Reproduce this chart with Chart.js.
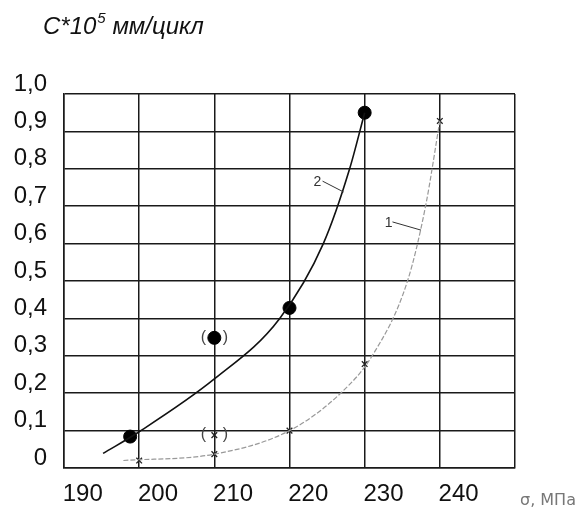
<!DOCTYPE html>
<html>
<head>
<meta charset="utf-8">
<script src="https://cdn.jsdelivr.net/npm/chart.js@4"></script>
<style>
  body { margin: 0; background: #fff; }
  canvas { display: block; }
</style>
</head>
<body>
<canvas id="chart" width="580" height="508"></canvas>
<script>
// Curve 2 (solid, dots)
const curve2LineX = [192.7, 197.5, 207.5, 216.2, 222.0, 225.5, 227.5];
const curve2LineY = [0.039, 0.097, 0.238, 0.40, 0.60, 0.80, 0.95];
const curve2PointsX = [196.3, 217.5, 227.5];
const curve2PointsY = [0.084, 0.428, 0.95];
const curve2OutlierX = [207.5];
const curve2OutlierY = [0.348];

// Curve 1 (thin grey, crosses)
const curve1LineX = [195.4, 207.5, 217.5, 224.3, 228.5, 233.2, 235.6, 237.5];
const curve1LineY = [0.02, 0.037, 0.10, 0.20, 0.30, 0.50, 0.70, 0.928];
const curve1PointsX = [197.5, 207.5, 217.5, 227.5, 237.5];
const curve1PointsY = [0.02, 0.037, 0.10, 0.278, 0.928];
const curve1OutlierX = [207.5];
const curve1OutlierY = [0.088];

// Axes
const xGridValues = [187.5, 197.5, 207.5, 217.5, 227.5, 237.5, 247.5];
const xTickLabels = [190, 200, 210, 220, 230, 240];
const xMin = 187.5, xMax = 247.5;
const yMin = 0, yMax = 1.0, yStep = 0.1;

// Curve labels: [text, textX, textY, leaderFromX, leaderFromY, leaderToX, leaderToY]
const curveLabels = [
    ['2', 221.2, 0.765, 221.9, 0.767, 224.7, 0.738],
    ['1', 230.7, 0.655, 231.2, 0.658, 235.0, 0.636]
];

const toPoints = (xs, ys) => xs.map((x, i) => ({ x: x, y: ys[i] }));
const ticksFrom = vals => axis => { axis.ticks = vals.map(v => ({ value: v })); };

const extrasPlugin = {
    id: 'extras',
    afterDatasetsDraw(chart) {
        const ctx = chart.ctx;
        const xs = chart.scales.x, ys = chart.scales.y;
        ctx.save();

        // parentheses round the doubtful points
        ctx.fillStyle = '#444';
        ctx.font = '16px "Liberation Sans", Arial, sans-serif';
        ctx.textAlign = 'center';
        ctx.textBaseline = 'middle';
        [2, 5].forEach(i => {
            const p = chart.getDatasetMeta(i).data[0];
            ctx.fillText('(', p.x - 11, p.y);
            ctx.fillText(')', p.x + 11, p.y);
        });

        // curve numbers with leaders
        ctx.strokeStyle = '#333';
        ctx.lineWidth = 1;
        ctx.fillStyle = '#333';
        ctx.font = '14px "Liberation Sans", Arial, sans-serif';
        curveLabels.forEach(l => {
            ctx.fillText(l[0], xs.getPixelForValue(l[1]), ys.getPixelForValue(l[2]));
            ctx.beginPath();
            ctx.moveTo(xs.getPixelForValue(l[3]), ys.getPixelForValue(l[4]));
            ctx.lineTo(xs.getPixelForValue(l[5]), ys.getPixelForValue(l[6]));
            ctx.stroke();
        });
        ctx.restore();
    },
    afterDraw(chart) {
        const ctx = chart.ctx;
        ctx.save();
        ctx.fillStyle = '#111';
        ctx.textBaseline = 'alphabetic';
        ctx.textAlign = 'left';
        // y title with superscript
        let x = 43;
        const base = 34;
        ctx.font = 'italic 24px "Liberation Sans", Arial, sans-serif';
        ctx.fillText('C*10', x, base);
        x += ctx.measureText('C*10').width + 1;
        ctx.font = 'italic 15px "Liberation Sans", Arial, sans-serif';
        ctx.fillText('5', x, base - 11);
        x += ctx.measureText('5').width;
        ctx.font = 'italic 24px "Liberation Sans", Arial, sans-serif';
        ctx.fillText(' мм/цикл', x, base);

        // x unit
        ctx.fillStyle = '#777';
        ctx.font = '16px "DejaVu Sans", sans-serif';
        ctx.fillText('σ, МПа', 520, 505);
        ctx.restore();
    }
};

const numFont = { family: '"Liberation Sans", Arial, sans-serif', size: 24 };

new Chart(document.getElementById('chart'), {
    type: 'line',
    data: {
        datasets: [
            {
                data: toPoints(curve2LineX, curve2LineY),
                borderColor: '#111',
                borderWidth: 1.6,
                pointRadius: 0,
                cubicInterpolationMode: 'monotone'
            },
            {
                data: toPoints(curve2PointsX, curve2PointsY),
                showLine: false,
                pointRadius: 6.5,
                pointBackgroundColor: '#000',
                pointBorderColor: '#000'
            },
            {
                data: toPoints(curve2OutlierX, curve2OutlierY),
                showLine: false,
                pointRadius: 6.5,
                pointBackgroundColor: '#000',
                pointBorderColor: '#000'
            },
            {
                data: toPoints(curve1LineX, curve1LineY),
                borderColor: '#999',
                borderWidth: 1.2,
                borderDash: [5, 2],
                pointRadius: 0,
                cubicInterpolationMode: 'monotone'
            },
            {
                data: toPoints(curve1PointsX, curve1PointsY),
                showLine: false,
                pointStyle: 'crossRot',
                pointRadius: 4,
                pointBorderWidth: 1.3,
                pointBorderColor: '#222'
            },
            {
                data: toPoints(curve1OutlierX, curve1OutlierY),
                showLine: false,
                pointStyle: 'crossRot',
                pointRadius: 4,
                pointBorderWidth: 1.3,
                pointBorderColor: '#222'
            }
        ]
    },
    options: {
        responsive: false,
        animation: false,
        layout: { padding: { top: 94, right: 65, left: 0, bottom: 0 } },
        plugins: {
            legend: { display: false },
            tooltip: { enabled: false }
        },
        scales: {
            x: {
                type: 'linear',
                position: 'bottom',
                min: xMin,
                max: xMax,
                afterBuildTicks: ticksFrom(xGridValues),
                afterFit: axis => { axis.height = 0; },
                ticks: { display: false },
                grid: { color: '#1a1a1a', lineWidth: 1.5, drawTicks: false },
                border: { color: '#1a1a1a', width: 1.5 }
            },
            xl: {
                type: 'linear',
                position: 'bottom',
                min: xMin,
                max: xMax,
                afterBuildTicks: ticksFrom(xTickLabels),
                afterFit: axis => { axis.height = 40; },
                ticks: { color: '#111', font: numFont, padding: 12, maxRotation: 0 },
                grid: { display: false, drawTicks: false },
                border: { display: false }
            },
            y: {
                min: yMin,
                max: yMax,
                afterFit: axis => { axis.width = 64; },
                ticks: {
                    stepSize: yStep,
                    color: '#111',
                    font: numFont,
                    padding: 17,
                    labelOffset: -10,
                    callback: v => v === 0 ? '0' : v.toFixed(1).replace('.', ',')
                },
                grid: { color: '#1a1a1a', lineWidth: 1.5, drawTicks: false },
                border: { color: '#1a1a1a', width: 1.5 }
            }
        }
    },
    plugins: [extrasPlugin]
});
</script>
</body>
</html>
